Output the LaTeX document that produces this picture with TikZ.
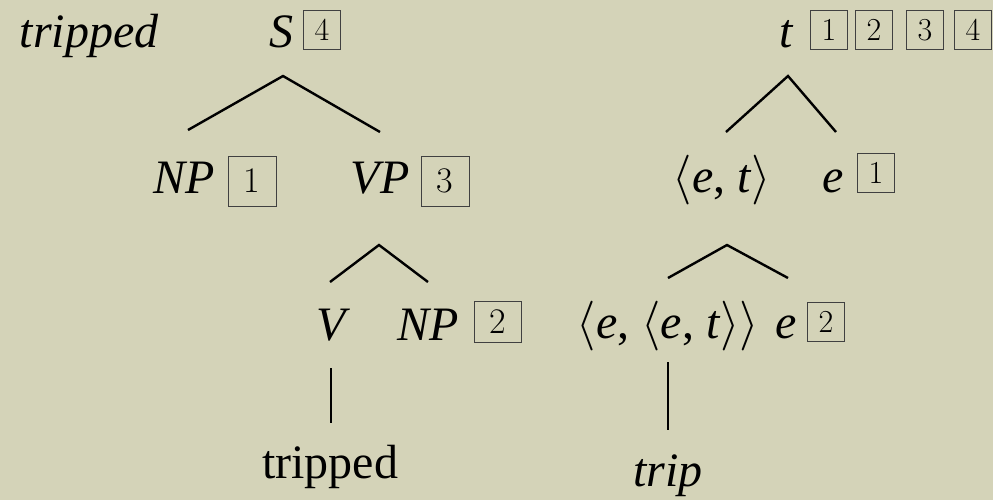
\documentclass[tikz,border=0pt]{standalone}
\usepackage[no-math]{fontspec}
\setmainfont{Liberation Serif}
\newfontfamily\lmr{Latin Modern Roman}
\definecolor{paper}{RGB}{212,211,184}
\begin{document}
\begin{tikzpicture}[x=0.5pt,y=-0.5pt,
  lbl/.style={anchor=base,inner sep=0pt,font=\fontsize{24}{28}\selectfont},
  ibox/.style={draw=black!75,line width=0.5pt,minimum width=18.5pt,minimum height=19.5pt,inner sep=0pt,font=\lmr\fontsize{16}{16}\selectfont},
  bigbox/.style={ibox,minimum width=24pt,minimum height=25pt,font=\lmr\fontsize{18}{18}\selectfont},
  midbox/.style={ibox,minimum width=23.5pt,minimum height=20.5pt,font=\lmr\fontsize{18}{18}\selectfont},
  edge/.style={line width=1.2pt,line join=miter}]
\fill[paper] (0,0) rectangle (993,500);
\useasboundingbox (0,0) rectangle (993,500);
% left tree
\node[lbl] (trTop) at (89,47) {\itshape tripped};
\node[lbl] (S) at (281,47) {\itshape S};
\node[ibox] (bS) at (322,30) {4};
\node[lbl] (NPa) at (184,193) {\itshape NP};
\node[bigbox] (bNPa) at (252,181) {1};
\node[lbl] (VP) at (380,193) {\itshape VP};
\node[bigbox] (bVP) at (445,181) {3};
\node[lbl] (V) at (331,340) {\itshape V};
\node[lbl] (NPb) at (428,340) {\itshape NP};
\node[midbox] (bNPb) at (498,322) {2};
\node[lbl] (trBot) at (330,478) {tripped};
\coordinate (Sa) at (283,76); \coordinate (Sl) at (188,130); \coordinate (Sr) at (380,132);
\coordinate (VPa) at (379,245); \coordinate (VPl) at (330,282); \coordinate (VPr) at (428,282);
\coordinate (Vt) at (331,368); \coordinate (Vb) at (331,423);
\draw[edge] (Sl) -- (Sa) -- (Sr);
\draw[edge] (VPl) -- (VPa) -- (VPr);
\draw[edge] (Vt) -- (Vb);
% right tree
\node[lbl] (t) at (786,47) {\itshape t};
\node[ibox] (b1) at (829,30) {1};
\node[ibox] (b2) at (874,30) {2};
\node[ibox] (b3) at (925,30) {3};
\node[ibox] (b4) at (973,30) {4};
\node[lbl] (et) at (722,192) {$\langle$\textit{e}, \textit{t}$\rangle$};
\node[lbl] (ea) at (833,192) {\itshape e};
\node[ibox] (bea) at (876,173) {1};
\node[lbl] (eet) at (668,338) {$\langle$\textit{e}, $\langle$\textit{e}, \textit{t}$\rangle\rangle$};
\node[lbl] (eb) at (786,338) {\itshape e};
\node[ibox] (beb) at (826,322) {2};
\node[lbl] (trip) at (668,486) {\itshape trip};
\coordinate (ta) at (788,76); \coordinate (tl) at (726,132); \coordinate (tr) at (836,132);
\coordinate (eta) at (727,245); \coordinate (etl) at (668,278); \coordinate (etr) at (788,278);
\coordinate (eett) at (668,362); \coordinate (eetb) at (668,430);
\draw[edge] (tl) -- (ta) -- (tr);
\draw[edge] (etl) -- (eta) -- (etr);
\draw[edge] (eett) -- (eetb);
\end{tikzpicture}
\end{document}
